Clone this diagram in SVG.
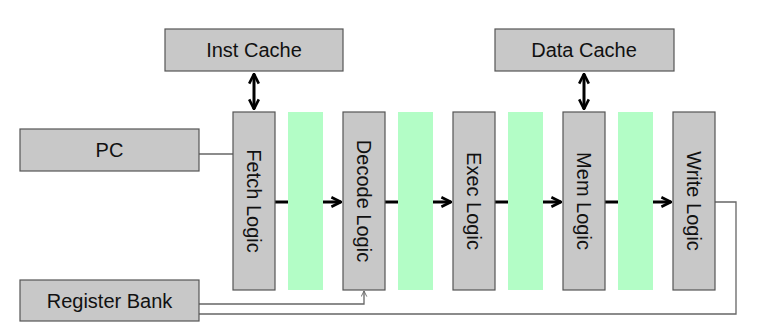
<svg xmlns="http://www.w3.org/2000/svg" width="757" height="332" viewBox="0 0 757 332">
  <style>
    .box { fill: #c8c8c8; stroke: #555; stroke-width: 1.2; }
    .latch { fill: #b3fdc6; }
    .lbl { font-family: "Liberation Sans", Arial, sans-serif; font-size: 20px; fill: #111; text-anchor: middle; dominant-baseline: central; }
    .flow { stroke: #000; stroke-width: 3; fill: none; }
    .wire { stroke: #666; stroke-width: 1.3; fill: none; }
  </style>
  <defs>
    <marker id="head" viewBox="0 0 10 10" refX="9" refY="5" markerWidth="4" markerHeight="4" orient="auto-start-reverse" markerUnits="strokeWidth">
      <path d="M1,1 L9,5 L1,9" fill="none" stroke="#000" stroke-width="2.2"/>
    </marker>
    <marker id="thin" viewBox="0 0 10 10" refX="9" refY="5" markerWidth="7" markerHeight="7" orient="auto" markerUnits="userSpaceOnUse">
      <path d="M1,1 L9,5 L1,9" fill="none" stroke="#666" stroke-width="1.3"/>
    </marker>
  </defs>

  <!-- pipeline latches -->
  <g id="latches">
    <rect class="latch" x="288" y="112" width="35" height="178"/>
    <rect class="latch" x="398" y="112" width="35" height="178"/>
    <rect class="latch" x="508" y="112" width="35" height="178"/>
    <rect class="latch" x="618" y="112" width="35" height="178"/>
  </g>

  <g id="connectors">
    <!-- cache ports -->
    <line class="flow" x1="254" y1="74" x2="254" y2="109" marker-start="url(#head)" marker-end="url(#head)"/>
    <line class="flow" x1="584" y1="74" x2="584" y2="109" marker-start="url(#head)" marker-end="url(#head)"/>
    <!-- stage-to-stage flow -->
    <line class="flow" x1="275" y1="202" x2="288" y2="202"/>
    <line class="flow" x1="323" y1="202" x2="341" y2="202" marker-end="url(#head)"/>
    <line class="flow" x1="385" y1="202" x2="398" y2="202"/>
    <line class="flow" x1="433" y1="202" x2="451" y2="202" marker-end="url(#head)"/>
    <line class="flow" x1="495" y1="202" x2="508" y2="202"/>
    <line class="flow" x1="543" y1="202" x2="561" y2="202" marker-end="url(#head)"/>
    <line class="flow" x1="605" y1="202" x2="618" y2="202"/>
    <line class="flow" x1="653" y1="202" x2="671" y2="202" marker-end="url(#head)"/>
    <!-- PC to fetch -->
    <line class="wire" x1="199" y1="154" x2="233" y2="154"/>
    <!-- register bank read port -->
    <polyline class="wire" points="199,304 364,304 364,291" marker-end="url(#thin)"/>
    <!-- write-back loop -->
    <polyline class="wire" points="715,202 736,202 736,314 199,314"/>
  </g>

  <g id="inst-cache">
    <rect class="box" x="165" y="29" width="178" height="42"/>
    <text class="lbl" x="254" y="50">Inst Cache</text>
  </g>
  <g id="data-cache">
    <rect class="box" x="495" y="29" width="179" height="42"/>
    <text class="lbl" x="584" y="50">Data Cache</text>
  </g>
  <g id="pc">
    <rect class="box" x="20" y="129" width="179" height="42"/>
    <text class="lbl" x="109.5" y="150">PC</text>
  </g>
  <g id="register-bank">
    <rect class="box" x="20" y="280" width="179" height="41"/>
    <text class="lbl" x="109.5" y="300.5">Register Bank</text>
  </g>
  <g id="fetch">
    <rect class="box" x="233" y="112" width="42" height="178"/>
    <text class="lbl" transform="translate(254,201) rotate(90)">Fetch Logic</text>
  </g>
  <g id="decode">
    <rect class="box" x="343" y="112" width="42" height="178"/>
    <text class="lbl" transform="translate(364,201) rotate(90)">Decode Logic</text>
  </g>
  <g id="exec">
    <rect class="box" x="453" y="112" width="42" height="178"/>
    <text class="lbl" transform="translate(474,201) rotate(90)">Exec Logic</text>
  </g>
  <g id="mem">
    <rect class="box" x="563" y="112" width="42" height="178"/>
    <text class="lbl" transform="translate(584,201) rotate(90)">Mem Logic</text>
  </g>
  <g id="write">
    <rect class="box" x="673" y="112" width="42" height="178"/>
    <text class="lbl" transform="translate(694,201) rotate(90)">Write Logic</text>
  </g>
</svg>
